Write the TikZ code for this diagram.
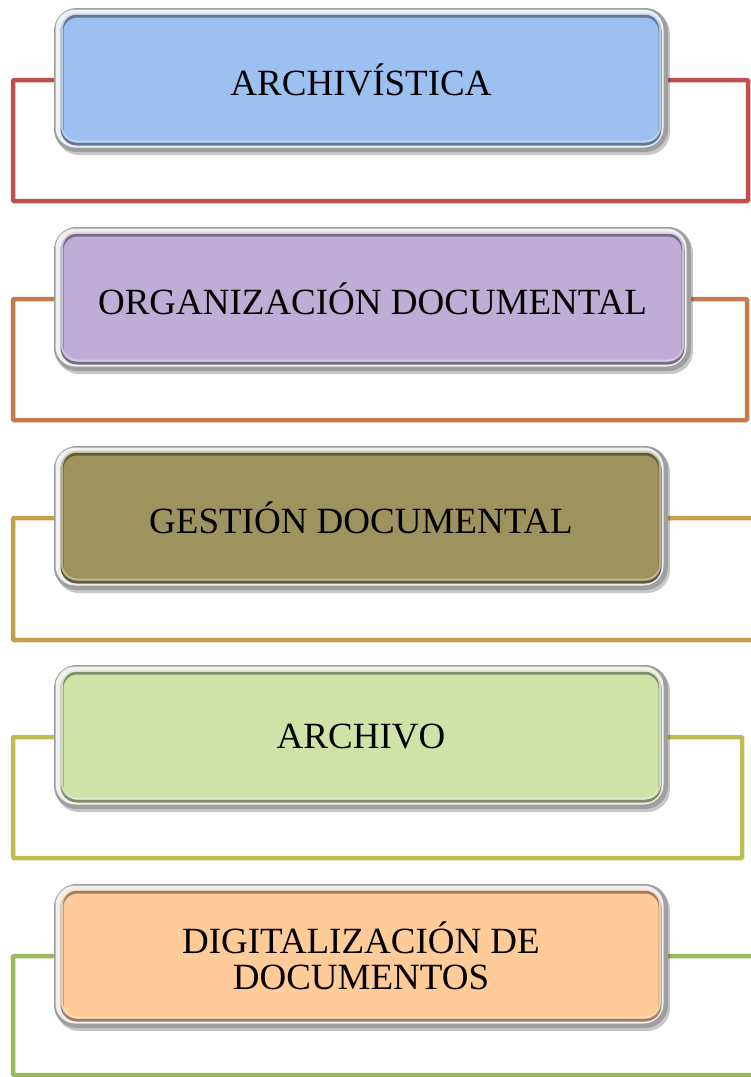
\documentclass[tikz,border=0pt]{standalone}
\usepackage{fontspec}
\setmainfont{Liberation Serif}
\usetikzlibrary{backgrounds}
\definecolor{lred}{HTML}{C0504D}
\definecolor{lorange}{HTML}{C57A4F}
\definecolor{lgold}{HTML}{C4A04C}
\definecolor{lolive}{HTML}{BDBD52}
\definecolor{lgreen}{HTML}{9BBB59}
\definecolor{fblue}{HTML}{9CC0F0}
\definecolor{fpurple}{HTML}{BEADD5}
\definecolor{folive}{HTML}{9E925E}
\definecolor{fgreen}{HTML}{D0E2A8}
\definecolor{fpeach}{HTML}{FFCC99}
\begin{document}
\begin{tikzpicture}[x=1pt,y=-1pt,
  boxnode/.style={rounded corners=15pt, minimum height=128pt, minimum width=598pt,
    draw=#1!62!black, line width=3pt, fill=#1,
    font=\fontsize{37}{36}\selectfont, align=center, inner sep=0pt,
    preaction={draw=black, fill=black, opacity=0.22, line width=16pt,
      transform canvas={shift={(2pt,-3pt)}}},
    preaction={draw=gray!75, line width=16pt},
    preaction={draw=gray!12, line width=10pt,
      transform canvas={shift={(-1.5pt,1.5pt)}}},
    postaction={draw=#1!55!white, line width=2pt,
      transform canvas={shift={(0pt,2.5pt)}}, draw opacity=0.8}},
  link/.style={line width=4.5pt, draw=#1, rounded corners=1pt}]
\useasboundingbox (0,0) rectangle (751,1077);

\node[boxnode=fblue] (a1) at (361,80) {ARCHIVÍSTICA};
\node[boxnode=fpurple, minimum width=621pt] (a2) at (372.5,299) {ORGANIZACIÓN DOCUMENTAL};
\node[boxnode=folive] (a3) at (361,518) {GESTIÓN DOCUMENTAL};
\node[boxnode=fgreen] (a4) at (361,737) {ARCHIVO};
\node[boxnode=fpeach] (a5) at (361,956) {DIGITALIZACIÓN DE\\DOCUMENTOS};

\begin{pgfonlayer}{background}
\fill[white] (0,0) rectangle (751,1077);
\draw[link=lred] (a1.west) -| (13,201) -| (748,80) -- (a1.east);
\draw[link=lorange] (a2.west) -| (13,420) -| (747,299) -- (a2.east);
\draw[link=lgold] (a3.west) -| (13,640) -| (765,518) -- (a3.east);
\draw[link=lolive] (a4.west) -| (13,858) -| (742,737) -- (a4.east);
\draw[link=lgreen] (a5.west) -| (13,1075) -| (765,956) -- (a5.east);
\end{pgfonlayer}
\end{tikzpicture}
\end{document}
